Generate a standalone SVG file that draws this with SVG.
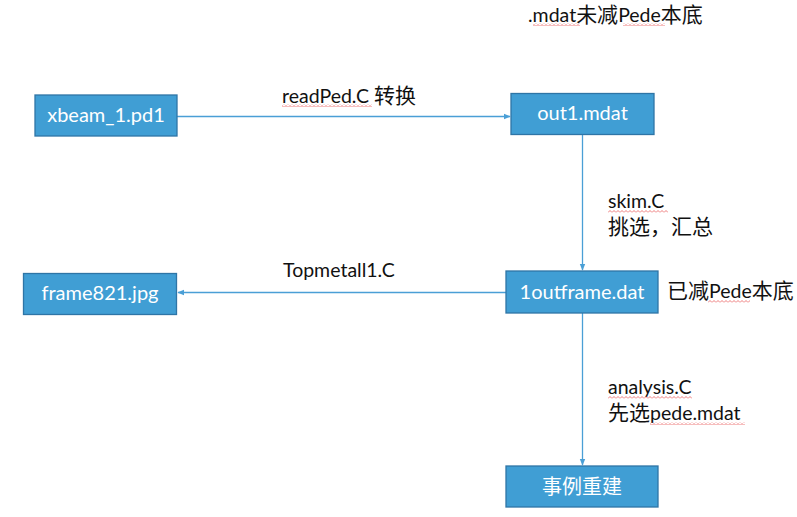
<svg xmlns="http://www.w3.org/2000/svg" width="797" height="517" viewBox="0 0 797 517">
<style>
.box{fill:#409ED4;stroke:#2E75A6;stroke-width:1.3}
.bt{font-family:Lato,"Noto Sans CJK SC",sans-serif;font-size:20px;fill:#fff;text-anchor:middle}
.lb{font-family:Lato,"Noto Sans CJK SC",sans-serif;font-size:19.5px;fill:#111}
.cj{font-size:21px}
.cn{fill:none;stroke:#4A9FD6;stroke-width:1.3}
</style>
<defs>
<marker id="ah" viewBox="0 0 10 10" refX="9" refY="5" markerWidth="7" markerHeight="7" orient="auto" markerUnits="userSpaceOnUse">
<path d="M0,1 L10,5 L0,9 Z" fill="#4A9FD6"/>
</marker>
<pattern id="wv" width="4" height="3" patternUnits="userSpaceOnUse">
<path d="M0,2.5 L2,0.5 L4,2.5" fill="none" stroke="#E85A5A" stroke-width="0.8"/>
</pattern>
</defs>
<rect width="797" height="517" fill="#fff"/>
<g id="connectors">
<line class="cn" x1="177" y1="116.5" x2="510" y2="116.5" marker-end="url(#ah)"/>
<line class="cn" x1="582.5" y1="134" x2="582.5" y2="270" marker-end="url(#ah)"/>
<line class="cn" x1="506" y1="292.5" x2="178" y2="292.5" marker-end="url(#ah)"/>
<line class="cn" x1="582.5" y1="313" x2="582.5" y2="465" marker-end="url(#ah)"/>
</g>
<g id="node-xbeam">
<rect class="box" x="35" y="95" width="142" height="41"/>
<text class="bt" x="106" y="122">xbeam_1.pd1</text>
</g>
<g id="node-out1">
<rect class="box" x="511" y="93.5" width="143" height="41"/>
<text class="bt" x="582.5" y="120">out1.mdat</text>
</g>
<g id="node-frame">
<rect class="box" x="23.5" y="273.5" width="153" height="41"/>
<text class="bt" x="100" y="299.5">frame821.jpg</text>
</g>
<g id="node-1outframe">
<rect class="box" x="506" y="271" width="152" height="42"/>
<text class="bt" x="582" y="298.5">1outframe.dat</text>
</g>
<g id="node-event">
<rect class="box" x="506" y="466" width="152" height="41"/>
<text class="bt" x="582" y="494">事例重建</text>
</g>
<g id="labels">
<text class="lb" x="528" y="22">.mdat<tspan class="cj">未减</tspan>Pede<tspan class="cj">本底</tspan></text>
<text class="lb" x="282" y="103">readPed.C <tspan class="cj">转换</tspan></text>
<text class="lb" x="608" y="208">skim.C</text>
<text class="lb cj" x="608" y="234">挑选，汇总</text>
<text class="lb" x="283" y="277">Topmetall1.C</text>
<text class="lb" x="667" y="298"><tspan class="cj">已减</tspan>Pede<tspan class="cj">本底</tspan></text>
<text class="lb" x="608" y="394">analysis.C</text>
<text class="lb" x="608" y="420"><tspan class="cj">先选</tspan>pede.mdat</text>
</g>
<g id="spellcheck">
<rect x="533" y="23" width="47" height="3" fill="url(#wv)"/>
<rect x="623" y="23" width="42" height="3" fill="url(#wv)"/>
<rect x="282" y="104" width="90" height="3" fill="url(#wv)"/>
<rect x="608" y="210" width="60" height="3" fill="url(#wv)"/>
<rect x="708" y="300" width="42" height="3" fill="url(#wv)"/>
<rect x="608" y="396" width="84" height="3" fill="url(#wv)"/>
<rect x="650" y="422" width="95" height="3" fill="url(#wv)"/>
</g>
</svg>
